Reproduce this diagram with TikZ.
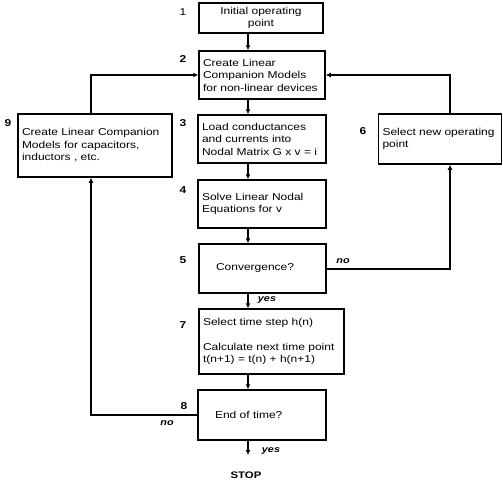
\documentclass[tikz,border=0pt]{standalone}
\usepackage{fontspec}
\setmainfont{Liberation Sans}
\newfontfamily\boxfont[FakeStretch=1.2]{Liberation Sans}
\usetikzlibrary{arrows.meta, positioning}
\tikzset{
  every picture/.style={line width=2pt},
  box/.style={draw, line width=1.5pt, align=left, inner xsep=4pt, inner ysep=2pt, font=\boxfont\fontsize{10}{12.5}\selectfont},
  arrow/.style={-{Latex[length=5pt, width=5pt]}, line width=2pt},
  num/.style={font=\boxfont\bfseries\fontsize{10}{12}\selectfont},
  tag/.style={font=\boxfont\bfseries\itshape\fontsize{9}{10}\selectfont},
}

\begin{document}
\begin{tikzpicture}[x=1pt, y=-1pt]
  \useasboundingbox (0,0) rectangle (503,480);
  % main column
  \node[box, align=center, text width=116pt, minimum height=30pt] (init) at (261,18) {Initial operating\\point};
  \node[box, text width=118pt, minimum height=48pt] (lcm) at (262,75) {Create Linear\\Companion Models\\for non-linear devices};
  \node[box, text width=120pt, minimum height=48pt] (load) at (262,139) {Load conductances\\and currents into\\Nodal Matrix G x v = i};
  \node[box, text width=120pt, minimum height=48pt] (solve) at (262,204) {Solve Linear Nodal\\Equations for v};
  \node[box, text width=119pt, minimum height=49pt] (conv) at (262.5,268.5) {\hspace*{13pt}Convergence?};
  \node[box, text width=137pt, minimum height=65pt] (tstep) at (271.5,341.5) {Select time step h(n)\\[12pt]Calculate next time point\\t(n+1) = t(n) + h(n+1)};
  \node[box, text width=120pt, minimum height=50pt] (endt) at (262,415) {\hspace*{13pt}End of time?};
  % side boxes
  \node[box, text width=146pt, minimum height=63pt] (capmod) at (95,145.5) {Create Linear Companion\\Models for capacitors,\\inductors , etc.};
  \node[box, text width=115pt, minimum height=50pt] (newop) at (440,139) {Select new operating\\point};
  % step numbers
  \node[num] (n1) at (183,12) {\mdseries 1};
  \node[num] (n2) at (183,59) {2};
  \node[num] (n3) at (183,123) {3};
  \node[num] (n4) at (183,190) {4};
  \node[num] (n5) at (183,260) {5};
  \node[num] (n6) at (363,131) {6};
  \node[num] (n7) at (183,325) {7};
  \node[num] (n8) at (184,406) {8};
  \node[num] (n9) at (8,123) {9};
  % spine
  \coordinate (sx) at (248,0);
  \draw[arrow] (init.south -| sx) -- (lcm.north -| sx);
  \draw[arrow] (lcm.south -| sx) -- (load.north -| sx);
  \draw[arrow] (load.south -| sx) -- (solve.north -| sx);
  \draw[arrow] (solve.south -| sx) -- (conv.north -| sx);
  \draw[arrow] (conv.south -| sx) -- (tstep.north -| sx);
  \draw[arrow] (tstep.south -| sx) -- (endt.north -| sx);
  \coordinate (stopend) at (248,455);
  \draw[arrow] (endt.south -| sx) -- (stopend);
  \node[font=\boxfont\bfseries\fontsize{9.5}{10}\selectfont, inner sep=0pt] (stop) at (246,475) {STOP};
  % loops
  \coordinate (rx) at (450,0);
  \coordinate (lx) at (91,0);
  \draw[arrow] (conv.east) -| (newop.south -| rx);
  \draw[arrow] (newop.north -| rx) |- (lcm.east);
  \draw[arrow] (endt.west) -| (capmod.south -| lx);
  \draw[arrow] (capmod.north -| lx) |- (lcm.west);
  \node[tag] (no1) at (343,261) {no};
  \node[tag] (yes1) at (267,300) {yes};
  \node[tag] (no2) at (167,423) {no};
  \node[tag] (yes2) at (271,451) {yes};
\end{tikzpicture}
\end{document}
